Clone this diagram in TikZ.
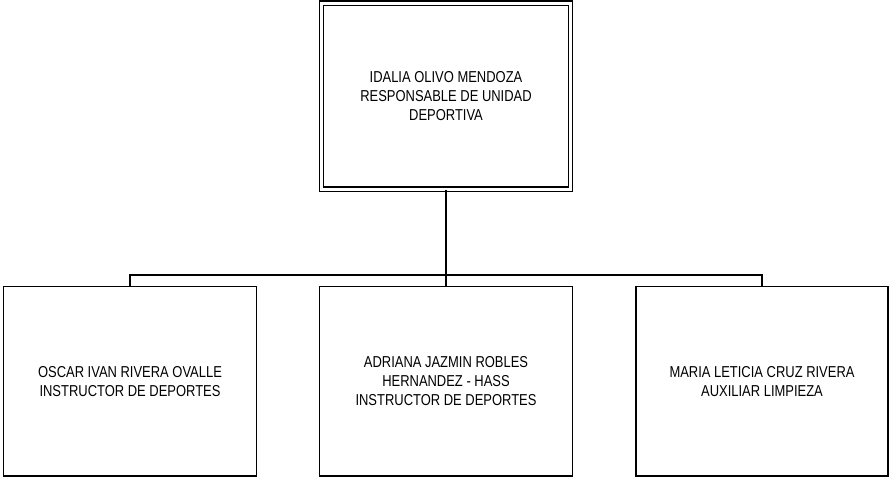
\documentclass[tikz,border=0pt]{standalone}
\usepackage{fontspec}
\setmainfont{Liberation Sans}[FakeStretch=0.82]
\begin{document}
\begin{tikzpicture}[x=1pt,y=-1pt,
  boxstyle/.style={draw=black, line width=1.4pt, rectangle, align=center, inner sep=0pt,
    font=\fontsize{15.8}{18.7}\selectfont},
  linkstyle/.style={draw=black, line width=1.4pt}]
\useasboundingbox (0,0) rectangle (890,477);
\node[boxstyle, double, double distance=3pt, minimum width=249pt, minimum height=186pt] (top) at (446,96)
  {IDALIA OLIVO MENDOZA\\RESPONSABLE DE UNIDAD\\DEPORTIVA};
\node[boxstyle, minimum width=253pt, minimum height=189.5pt] (left) at (130,381.25)
  {OSCAR IVAN RIVERA OVALLE\\INSTRUCTOR DE DEPORTES};
\node[boxstyle, minimum width=253pt, minimum height=189.5pt] (mid) at (446,381.25)
  {ADRIANA JAZMIN ROBLES\\HERNANDEZ - HASS\\INSTRUCTOR DE DEPORTES};
\node[boxstyle, minimum width=252pt, minimum height=189.5pt] (right) at (762,381.25)
  {MARIA LETICIA CRUZ RIVERA\\AUXILIAR LIMPIEZA};
\coordinate (bus) at (446,275);
\draw[linkstyle] (top.south) -- (mid.north);
\draw[linkstyle] (left.north) |- (bus) -| (right.north);
\end{tikzpicture}
\end{document}
